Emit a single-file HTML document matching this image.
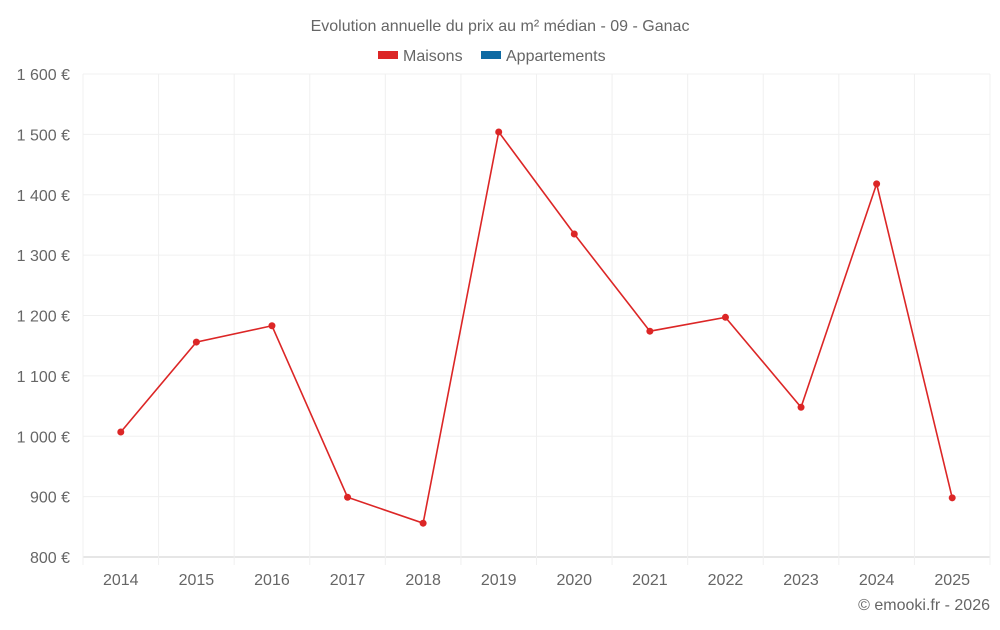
<!DOCTYPE html>
<html><head><meta charset="utf-8"><style>
body{margin:0;background:#fff;font-family:"Liberation Sans",sans-serif;}
svg text{font-family:"Liberation Sans",sans-serif;fill:#666;}
</style></head><body>
<svg id="chart" width="1000" height="625">
<text x="500" y="31" text-anchor="middle" font-size="16">Evolution annuelle du prix au m² médian - 09 - Ganac</text>
<g>
<g><rect x="378" y="51" width="20" height="8" fill="#dc2626"/><text x="403" y="61" font-size="16">Maisons</text></g>
<g><rect x="481" y="51" width="20" height="8" fill="#0e6aa3"/><text x="506" y="61" font-size="16">Appartements</text></g>
</g>
<g id="grid"></g><g id="axes"></g><g id="series"></g>
<text x="990" y="610" text-anchor="end" font-size="16">© emooki.fr - 2026</text>
</svg>
<script>
const years=["2014","2015","2016","2017","2018","2019","2020","2021","2022","2023","2024","2025"];
const maisons=[1007,1156,1183,899,856,1504,1335,1174,1197,1048,1418,898];
const yTicks=[800,900,1000,1100,1200,1300,1400,1500,1600];
const L=83,R=990,T=74,B=557,ymin=800,ymax=1600;
const NS="http://www.w3.org/2000/svg";
const step=(R-L)/years.length;
const x=i=>L+step*(i+0.5);
const y=v=>B-(v-ymin)/(ymax-ymin)*(B-T);
function mk(tag,attrs,parent){const e=document.createElementNS(NS,tag);for(const k in attrs)e.setAttribute(k,attrs[k]);parent.appendChild(e);return e;}
const grid=document.getElementById('grid'),axes=document.getElementById('axes'),series=document.getElementById('series');
yTicks.forEach(v=>{
 const l=mk('line',{x1:L,x2:R,y1:y(v),y2:y(v),stroke:v===ymin?'#ccc':'#f0f0f0'},grid);
 
 
 const t=mk('text',{x:70,y:y(v)+6,'text-anchor':'end','font-size':'16'},axes);
 t.textContent=String(v).replace(/\B(?=(\d{3})+(?!\d))/g,' ')+' €';
 
 
});
for(let i=0;i<=years.length;i++){
 const gx=L+step*i;
 const l=mk('line',{x1:gx,x2:gx,y1:T,y2:B+8,stroke:'#f0f0f0'},grid);
 
 
}
years.forEach((yr,i)=>{
 const t=mk('text',{x:x(i),y:585,'text-anchor':'middle','font-size':'16'},axes);
 t.textContent=yr;
 
 
});
const p=mk('polyline',{points:maisons.map((v,i)=>x(i)+','+y(v)).join(' '),fill:'none',stroke:'#dc2626','stroke-width':1.6},series);


maisons.forEach((v,i)=>{
 const c=mk('circle',{cx:x(i),cy:y(v),r:3.5,fill:'#dc2626'},series);
 
 
});
</script>
</body></html>
